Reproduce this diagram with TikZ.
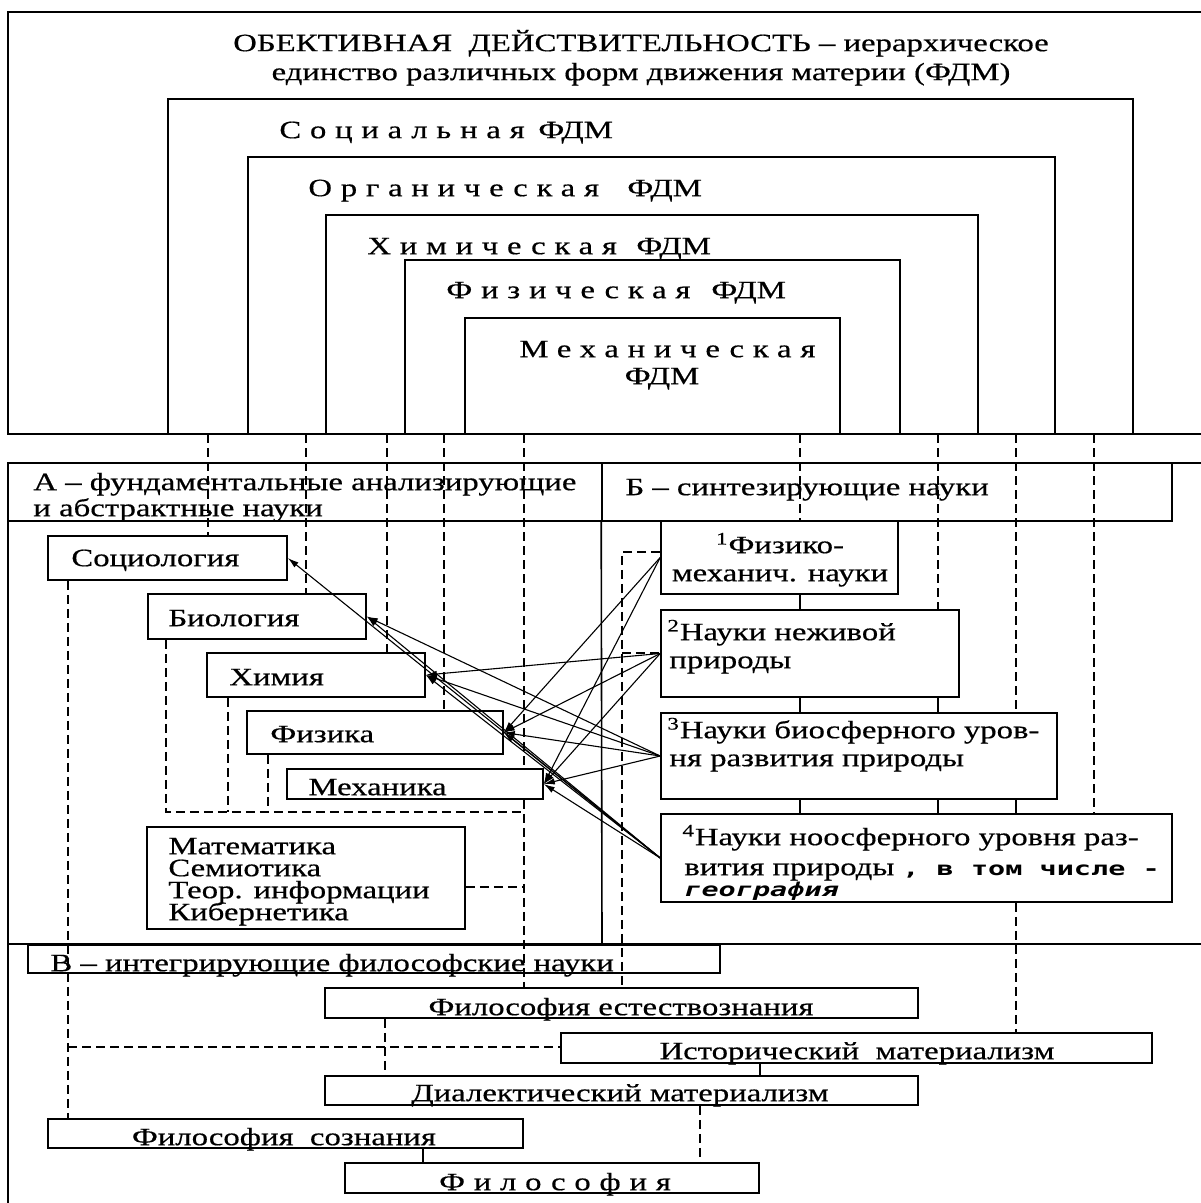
\documentclass[tikz,border=0pt]{standalone}
\usepackage{fontspec}
\setmainfont{Liberation Serif}[FakeStretch=1.31,FakeBold=0.5]
\newfontfamily\spacedfont{Liberation Serif}[FakeStretch=1.31,FakeBold=0.5,LetterSpace=35]
\newfontfamily\handfont{DejaVu Sans Mono}[FakeStretch=1.5]
\usetikzlibrary{fit,arrows.meta}
\newcommand\mainsize{\fontsize{12.5pt}{14pt}\selectfont}
\newcommand\handsize{\fontsize{9.5pt}{11pt}\selectfont}
\begin{document}
\begin{tikzpicture}[x=0.5pt,y=-0.5pt]
    \tikzstyle{frame}=[draw,line width=0.8pt,inner sep=0pt]
    \tikzstyle{box}=[frame,fill=white]
    \tikzstyle{lbl}=[inner sep=0pt,anchor=mid west,yshift=-1.8pt,font=\mainsize]
    \tikzstyle{clbl}=[inner sep=0pt,anchor=mid,yshift=-1.8pt,font=\mainsize]
    \tikzstyle{spaced}=[lbl,font=\mainsize\spacedfont]
    \tikzstyle{hand}=[lbl,font=\handsize\handfont\bfseries]
    \tikzstyle{dashln}=[line width=0.8pt,dash pattern=on 4.5pt off 2.5pt]
    \tikzstyle{solidln}=[line width=0.8pt]
    \tikzstyle{link}=[line width=0.55pt,-{Latex[length=5.5pt,width=3.2pt]}]
    \useasboundingbox (0,0) rectangle (1200,1203);
    \begin{scope}
        \node[frame,fit={(8,12) (1215,434)}] (reality) {};
        \node[frame,fit={(168,99) (1133,434)}] (fdmSoc) {};
        \node[frame,fit={(248,157) (1055,434)}] (fdmOrg) {};
        \node[frame,fit={(326,215) (978,434)}] (fdmChem) {};
        \node[frame,fit={(405,260) (900,434)}] (fdmPhys) {};
        \node[frame,fit={(465,318) (840,434)}] (fdmMech) {};
        \node[clbl] (title1) at (641,43) {ОБЕКТИВНАЯ\ \ ДЕЙСТВИТЕЛЬНОСТЬ – иерархическое};
        \node[clbl] (title2) at (641,72) {единство различных форм движения материи (ФДМ)};
        \node[spaced] (socName) at (279,130) {Социальная};
        \node[lbl] (socFdm) at (538,130) {ФДМ};
        \node[spaced] (orgName) at (308,188) {Органическая};
        \node[lbl] (orgFdm) at (627,188) {ФДМ};
        \node[spaced] (chemName) at (367,246) {Химическая};
        \node[lbl] (chemFdm) at (636,246) {ФДМ};
        \node[spaced] (physName) at (446,290) {Физическая};
        \node[lbl] (physFdm) at (711,290) {ФДМ};
        \node[spaced] (mechName) at (519,349) {Механическая};
        \node[clbl] (mechFdm) at (662,376) {ФДМ};
        \coordinate (g1) at (208,434);
        \coordinate (g2) at (306,434);
        \coordinate (g3) at (387,434);
        \coordinate (g4) at (444,434);
        \coordinate (g5) at (524,434);
        \coordinate (g6) at (800,434);
        \coordinate (g7) at (938,434);
        \coordinate (g8) at (1016,434);
        \coordinate (g9) at (1094,434);
    \end{scope}
    \begin{scope}
        \draw[solidln] (8,1215) -- (8,463) -- (1215,463);
        \node[frame,fit={(8,463) (602,521)}] (aHead) {};
        \node[frame,fit={(602,463) (1172,521)}] (bHead) {};
        \draw[solidln] (bHead.south west) -- (602,944);
        \draw[solidln] (8,944) -- (1215,944);
        \node[lbl] (aHead1) at (33,482) {А – фундаментальные анализирующие};
        \node[lbl] (aHead2) at (33,508) {и абстрактные науки};
        \node[lbl] (bHead1) at (625,487) {Б – синтезирующие науки};
        \node[box,fit={(48,536) (287,580)}] (soc) {};
        \node[box,fit={(148,594) (366,639)}] (bio) {};
        \node[box,fit={(207,653) (425,697)}] (chem) {};
        \node[box,fit={(247,711) (503,754)}] (phys) {};
        \node[box,fit={(287,769) (543,799)}] (mech) {};
        \node[box,fit={(147,827) (465,929)}] (math) {};
        \node[lbl] (socText) at (71,558) {Социология};
        \node[lbl] (bioText) at (168,618) {Биология};
        \node[lbl] (chemText) at (229,677) {Химия};
        \node[lbl] (physText) at (270,734) {Физика};
        \node[lbl] (mechText) at (308,787) {Механика};
        \node[lbl] (math1) at (168,846) {Математика};
        \node[lbl] (math2) at (168,868) {Семиотика};
        \node[lbl] (math3) at (168,890) {Теор. информации};
        \node[lbl] (math4) at (168,912) {Кибернетика};
        \node[box,fit={(661,521) (898,594)}] (b1) {};
        \node[box,fit={(661,610) (959,697)}] (b2) {};
        \node[box,fit={(661,713) (1057,799)}] (b3) {};
        \node[box,fit={(661,814) (1172,902)}] (b4) {};
        \node[clbl] (b1l1) at (780,545) {\textsuperscript{1}Физико-};
        \node[clbl] (b1l2) at (780,573) {механич. науки};
        \node[lbl] (b2l1) at (667,632) {\textsuperscript{2}Науки неживой};
        \node[lbl] (b2l2) at (669,660) {природы};
        \node[lbl] (b3l1) at (667,730) {\textsuperscript{3}Науки биосферного уров-};
        \node[lbl] (b3l2) at (669,758) {ня развития природы};
        \node[lbl] (b4l1) at (682,837) {\textsuperscript{4}Науки ноосферного уровня раз-};
        \node[lbl] (b4l2) at (684,867) {вития природы};
        \node[hand] (b4l3) at (902,867) {, в том числе -};
        \node[hand,font=\handsize\handfont\bfseries\itshape] (b4l4) at (684,888) {география};
    \end{scope}
    \begin{scope}
        \node[frame,fit={(28,945) (720,973)}] (vHead) {};
        \node[lbl] (vHead1) at (50,963) {В – интегрирующие философские науки};
        \node[box,fit={(325,988) (918,1018)}] (fe) {};
        \node[box,fit={(561,1033) (1152,1063)}] (hm) {};
        \node[box,fit={(325,1076) (918,1105)}] (dm) {};
        \node[box,fit={(48,1119) (523,1148)}] (fs) {};
        \node[box,fit={(345,1163) (759,1193)}] (phil) {};
        \node[clbl] (feText) at (621,1007) {Философия естествознания};
        \node[clbl] (hmText) at (857,1051) {Исторический\ \ материализм};
        \node[clbl] (dmText) at (620,1093) {Диалектический материализм};
        \node[clbl] (fsText) at (284,1137) {Философия\ \ сознания};
        \node[clbl,font=\mainsize\spacedfont] (philText) at (555,1182) {Философия};
    \end{scope}
    \begin{scope}
        \draw[dashln] (g1) -- (g1 |- soc.north);
        \draw[dashln] (g2) -- (g2 |- bio.north);
        \draw[dashln] (g3) -- (g3 |- chem.north);
        \draw[dashln] (g4) -- (g4 |- phys.north);
        \draw[dashln] (g5) -- (g5 |- mech.north);
        \draw[dashln] (g5 |- mech.south) -- (g5 |- fe.north);
        \draw[dashln] (g6) -- (g6 |- b1.north);
        \draw[dashln] (g7) -- (g7 |- b2.north);
        \draw[dashln] (g8) -- (g8 |- b3.north);
        \draw[dashln] (g9) -- (g9 |- b4.north);
        \draw[solidln] (g6 |- b1.south) -- (g6 |- b2.north);
        \draw[solidln] (g6 |- b2.south) -- (g6 |- b3.north);
        \draw[solidln] (g6 |- b3.south) -- (g6 |- b4.north);
        \draw[solidln] (g7 |- b2.south) -- (g7 |- b3.north);
        \draw[solidln] (g7 |- b3.south) -- (g7 |- b4.north);
        \draw[solidln] (g8 |- b3.south) -- (g8 |- b4.north);
        \draw[dashln] (g8 |- b4.south) -- (g8 |- hm.north);
        \coordinate (k1) at (166,812);
        \coordinate (k2) at (228,812);
        \coordinate (k3) at (268,812);
        \coordinate (k4) at (524,812);
        \draw[dashln] (k1 |- bio.south) -- (k1) -- (k4);
        \draw[dashln] (k2 |- chem.south) -- (k2);
        \draw[dashln] (k3 |- phys.south) -- (k3);
        \coordinate (mj) at (524,887);
        \draw[dashln] (mj -| math.east) -- (mj);
        \coordinate (s1) at (68,1047);
        \draw[dashln] (s1 |- soc.south) -- (s1 |- fs.north);
        \draw[dashln] (s1) -- (s1 -| hm.west);
        \coordinate (r1) at (622,552);
        \coordinate (r2) at (622,653);
        \draw[dashln] (r1 -| b1.west) -- (r1) -- (r1 |- fe.north);
        \draw[dashln] (r2) -- (r2 -| b2.west);
        \coordinate (c1) at (385,1050);
        \coordinate (c2) at (760,1050);
        \coordinate (c3) at (700,1050);
        \coordinate (c4) at (423,1050);
        \draw[dashln] (c1 |- fe.south) -- (c1 |- dm.north);
        \draw[solidln] (c2 |- hm.south) -- (c2 |- dm.north);
        \draw[dashln] (c3 |- dm.south) -- (c3 |- phil.north);
        \draw[solidln] (c4 |- fs.south) -- (c4 |- phil.north);
    \end{scope}
    \begin{scope}
        \draw[link] (b1.west) -- (phys.east);
        \draw[link] (b1.west) -- (mech.east);
        \draw[link] (b2.west) -- (chem.east);
        \draw[link] (b2.west) -- (phys.east);
        \draw[link] (b2.west) -- (mech.east);
        \draw[link] (b3.west) -- (bio.east);
        \draw[link] (b3.west) -- (chem.east);
        \draw[link] (b3.west) -- (phys.east);
        \draw[link] (b3.west) -- (mech.east);
        \draw[link] (b4.west) -- (soc.east);
        \draw[link] (b4.west) -- (bio.east);
        \draw[link] (b4.west) -- (chem.east);
        \draw[link] (b4.west) -- (phys.east);
        \draw[link] (b4.west) -- (mech.east);
    \end{scope}
\end{tikzpicture}
\end{document}
